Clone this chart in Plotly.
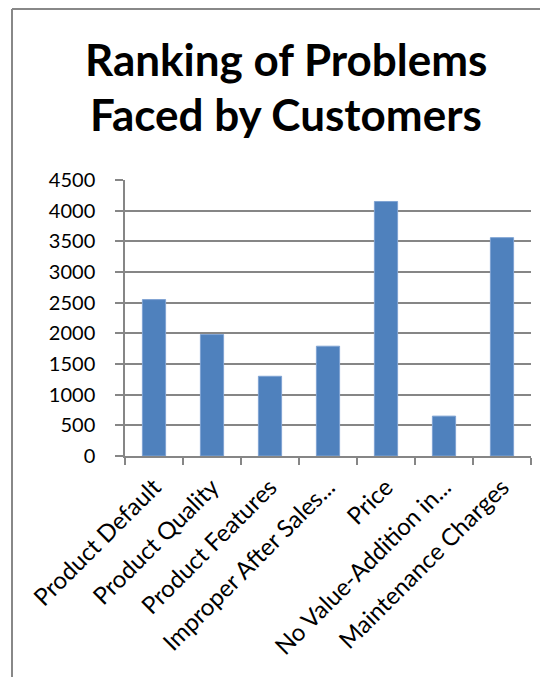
import plotly.graph_objects as go

categories = ["Product Default", "Product Quality", "Product Features",
              "Improper After Sales...", "Price", "No Value-Addition in...",
              "Maintenance Charges"]
values = [2550, 1980, 1300, 1790, 4150, 650, 3560]
y_ticks = [0, 500, 1000, 1500, 2000, 2500, 3000, 3500, 4000, 4500]
title_lines = ["Ranking of Problems", "Faced by Customers"]

FONT = "Lato"
GRID = "#868686"

fig = go.Figure(go.Bar(
    x=categories, y=values,
    marker=dict(color="#4F81BD", line=dict(color="#7FA3D3", width=1)),
    width=0.4,
))

# page body has an 8px margin; figure coordinates are offset accordingly
W, H = 548, 677
L, R, T, B = 117, 25, 172, 229
ph = H - T - B
pw = W - L - R


def py(fig_y):
    return (H - B - fig_y) / ph


def px(fig_x):
    return (fig_x - L) / pw


fig.update_layout(
    width=W, height=H,
    margin=dict(l=L, r=R, t=T, b=B, pad=0),
    paper_bgcolor="white", plot_bgcolor="white",
    showlegend=False,
    font=dict(family=FONT, color="black", size=20),
    xaxis=dict(
        type="category",
        showgrid=False,
        showline=True, linecolor=GRID, linewidth=1.5,
        ticks="outside", ticklen=7, tickcolor=GRID, tickwidth=1.5,
        tickson="boundaries",
        tickangle=-45,
        ticklabelstandoff=6,
        tickfont=dict(family=FONT, size=24, color="black"),
        range=[-0.5, 6.5],
    ),
    yaxis=dict(
        range=[0, 4500],
        tickvals=y_ticks,
        ticktext=[str(v) for v in y_ticks],
        showgrid=True, gridcolor=GRID, gridwidth=1.5,
        showline=True, linecolor=GRID, linewidth=1.5,
        ticks="outside", ticklen=8, tickcolor=GRID, tickwidth=1.5,
        ticklabelstandoff=16,
        tickfont=dict(family=FONT, size=20, color="black"),
        zeroline=False,
    ),
)

# title, one annotation per line
for i, (line, cy) in enumerate(zip(title_lines, [51.5, 106.5])):
    fig.add_annotation(
        text="<b>%s</b>" % line, showarrow=False,
        xref="paper", yref="paper",
        x=px(278), y=py(cy), xanchor="center", yanchor="middle",
        font=dict(family=FONT, size=44, color="black"),
    )

# chart frame (left and top edges visible)
fx = px(4)
fy = py(1)
fig.add_shape(type="line", xref="paper", yref="paper",
              x0=fx, x1=fx, y0=-2, y1=fy,
              line=dict(color="#888888", width=2))
fig.add_shape(type="line", xref="paper", yref="paper",
              x0=fx, x1=2, y0=fy, y1=fy,
              line=dict(color="#888888", width=2))

fig.write_html("out.html")
